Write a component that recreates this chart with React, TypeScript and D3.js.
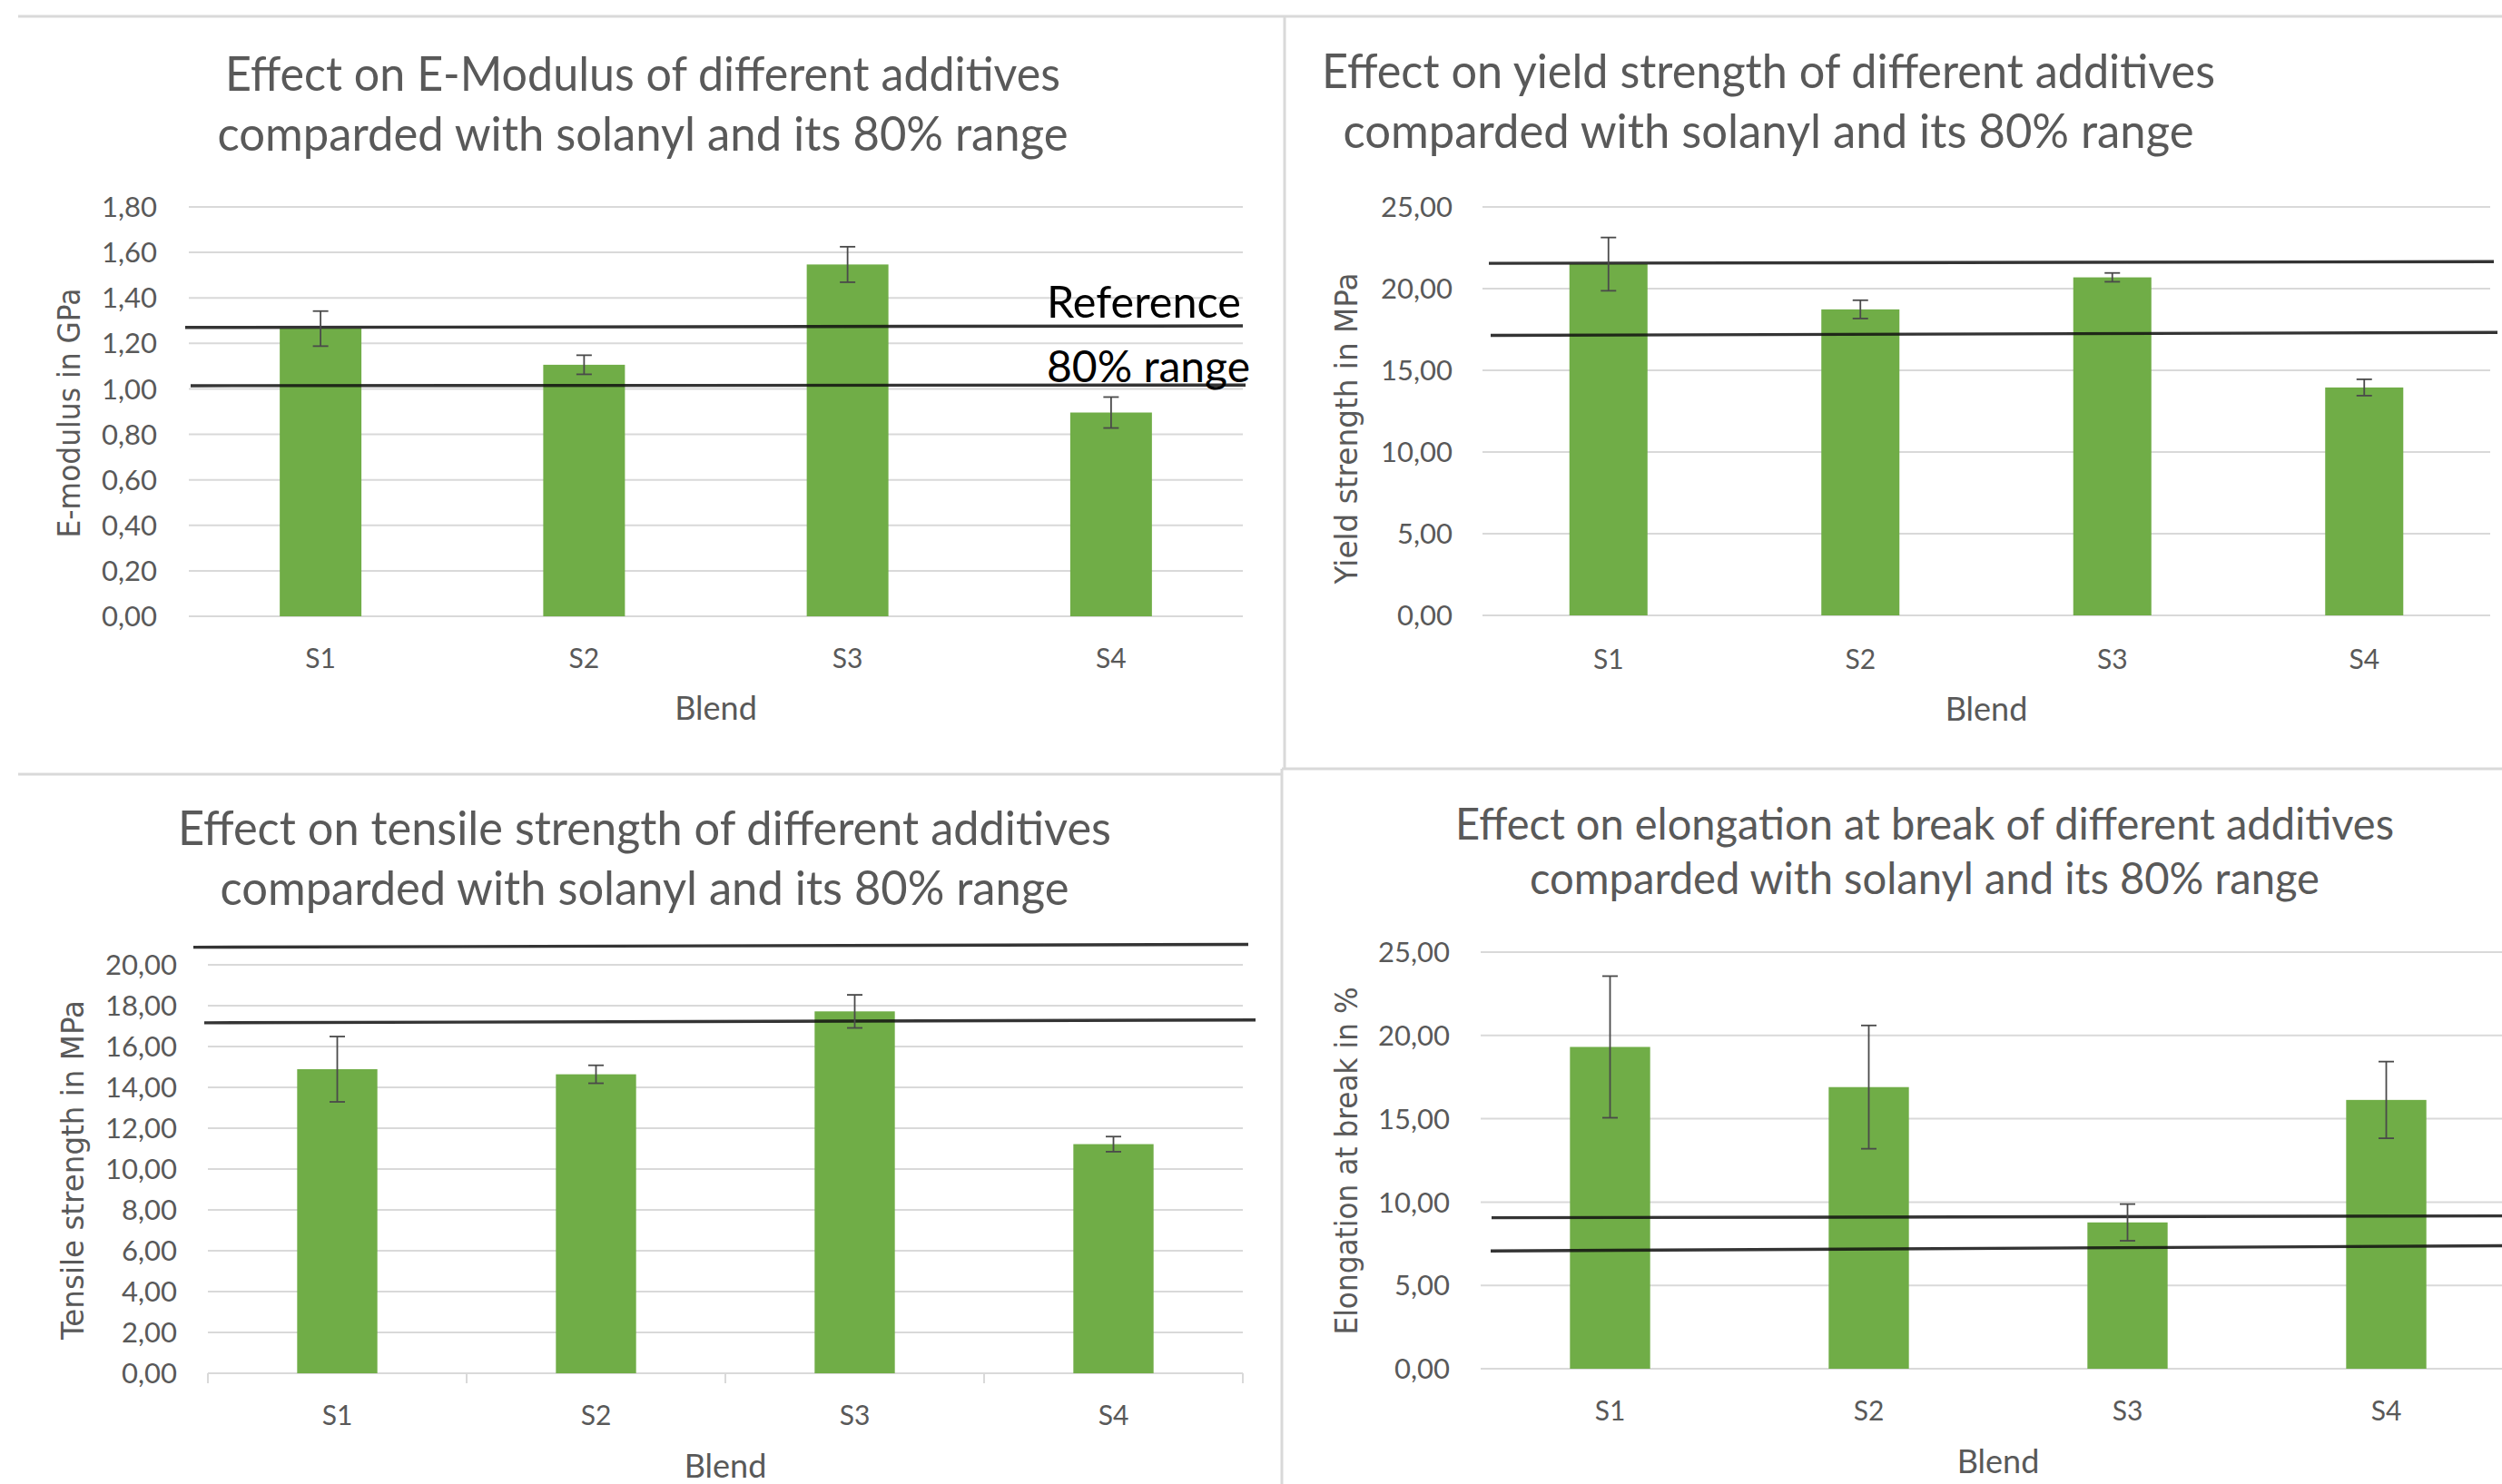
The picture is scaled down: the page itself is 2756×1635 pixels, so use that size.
import React from "react";
import * as d3 from "d3";

// ---------- DATA ----------
const categories = ["S1", "S2", "S3", "S4"];

const eModulusTitle = ["Effect on E-Modulus of different additives", "comparded with solanyl and its 80% range"];
const eModulusAxis = "E-modulus in GPa";
const eModulus = [1.265, 1.106, 1.547, 0.896];
const eModulusErr = [0.077, 0.042, 0.078, 0.068];
const eModulusRefUpper = [1.27, 1.277];
const eModulusRefLower = [1.014, 1.017];
const eModulusTicks = [0, 0.2, 0.4, 0.6, 0.8, 1.0, 1.2, 1.4, 1.6, 1.8];

const yieldTitle = ["Effect on yield strength of different additives", "comparded with solanyl and its 80% range"];
const yieldAxis = "Yield strength in MPa";
const yieldStrength = [21.5, 18.73, 20.69, 13.95];
const yieldErr = [1.63, 0.56, 0.27, 0.5];
const yieldRefUpper = [21.55, 21.65];
const yieldRefLower = [17.14, 17.32];
const yieldTicks = [0, 5, 10, 15, 20, 25];

const tensileTitle = ["Effect on tensile strength of different additives", "comparded with solanyl and its 80% range"];
const tensileAxis = "Tensile strength in MPa";
const tensileStrength = [14.89, 14.64, 17.72, 11.22];
const tensileErr = [1.6, 0.44, 0.81, 0.37];
const tensileRefUpper = [20.86, 21.0];
const tensileRefLower = [17.16, 17.3];
const tensileTicks = [0, 2, 4, 6, 8, 10, 12, 14, 16, 18, 20];

const elongTitle = ["Effect on elongation at break of different additives", "comparded with solanyl and its 80% range"];
const elongAxis = "Elongation at break in %";
const elongation = [19.31, 16.9, 8.78, 16.13];
const elongErr = [4.25, 3.7, 1.1, 2.3];
const elongRefUpper = [9.06, 9.17];
const elongRefLower = [7.07, 7.38];
const elongTicks = [0, 5, 10, 15, 20, 25];

const xAxisLabel = "Blend";
const refLabels = ["Reference", "80% range"];

// ---------- STYLE / LAYOUT ----------
const W = 2756;
const H = 1635;
const GREEN = "#70AD47";
const GRID = "#D9D9D9";
const TEXT = "#595959";
const FONT = "Lato, 'Open Sans', sans-serif";

const locale = d3.formatLocale({ decimal: ",", thousands: ".", grouping: [3], currency: ["", "€"] });
const fmt = locale.format(".2f");

type Panel = {
  title: string[];
  axis: string;
  values: number[];
  errs: number[];
  refUpper: number[];
  refLower: number[];
  ticks: number[];
  x0: number; x1: number; yTop: number; yZero: number;
  titleX: number; titleY: number[]; titleLen: number[]; titleSize: number;
  tickRight: number;
  axisX: number; axisY: number; axisLen: number;
  catBase: number; blendBase: number;
  upperExt: number[]; lowerExt: number[];
  xTicks?: boolean;
  refText?: boolean;
};

const panels: Panel[] = [
  {
    title: eModulusTitle, axis: eModulusAxis, values: eModulus, errs: eModulusErr,
    refUpper: eModulusRefUpper, refLower: eModulusRefLower, ticks: eModulusTicks,
    x0: 208, x1: 1369, yTop: 228, yZero: 679,
    titleX: 708, titleY: [100, 166], titleLen: [920, 937], titleSize: 52,
    tickRight: 173, axisX: 76, axisY: 455, axisLen: 275,
    catBase: 736, blendBase: 793,
    upperExt: [204, 1369], lowerExt: [210, 1372], refText: true,
  },
  {
    title: yieldTitle, axis: yieldAxis, values: yieldStrength, errs: yieldErr,
    refUpper: yieldRefUpper, refLower: yieldRefLower, ticks: yieldTicks,
    x0: 1633, x1: 2743, yTop: 228, yZero: 678,
    titleX: 1948, titleY: [97, 163], titleLen: [984, 937], titleSize: 52,
    tickRight: 1600, axisX: 1483, axisY: 472, axisLen: 343,
    catBase: 737, blendBase: 794,
    upperExt: [1640, 2747], lowerExt: [1642, 2751],
  },
  {
    title: tensileTitle, axis: tensileAxis, values: tensileStrength, errs: tensileErr,
    refUpper: tensileRefUpper, refLower: tensileRefLower, ticks: tensileTicks,
    x0: 229, x1: 1369, yTop: 1063, yZero: 1513,
    titleX: 710, titleY: [931, 997], titleLen: [1028, 935], titleSize: 52,
    tickRight: 195, axisX: 80, axisY: 1289, axisLen: 374,
    catBase: 1570, blendBase: 1628,
    upperExt: [213, 1375], lowerExt: [225, 1383], xTicks: true,
  },
  {
    title: elongTitle, axis: elongAxis, values: elongation, errs: elongErr,
    refUpper: elongRefUpper, refLower: elongRefLower, ticks: elongTicks,
    x0: 1631, x1: 2771, yTop: 1049, yZero: 1508,
    titleX: 2120, titleY: [925, 985], titleLen: [1034, 870], titleSize: 48,
    tickRight: 1597, axisX: 1483, axisY: 1279, axisLen: 383,
    catBase: 1565, blendBase: 1623,
    upperExt: [1643, 2756], lowerExt: [1642, 2756],
  },
];

function ChartPanel({ p }: { p: Panel }) {
  const x = d3.scaleBand<string>().domain(categories).range([p.x0, p.x1]).paddingInner(0.69).paddingOuter(0.345);
  const yMax = p.ticks[p.ticks.length - 1];
  const y = d3.scaleLinear().domain([0, yMax]).range([p.yZero, p.yTop]);
  const step = x.step();
  const bw = x.bandwidth();
  const cap = 8.5;
  const refLine = (vals: number[], ext: number[]) => {
    const ls = d3.scaleLinear().domain([0, 1]).range(ext);
    return d3.line<number>().x((_, i) => ls(i)).y((d) => y(d))(vals) || "";
  };
  return (
    <g>
      {p.title.map((t, i) => (
        <text key={i} x={p.titleX} y={p.titleY[i]} textAnchor="middle" fontFamily={FONT} fontWeight={400}
          fontSize={p.titleSize} fill={TEXT} textLength={p.titleLen[i]} lengthAdjust="spacingAndGlyphs">{t}</text>
      ))}
      {p.ticks.map((t) => (
        <line key={t} x1={p.x0} x2={Math.min(p.x1, W)} y1={y(t)} y2={y(t)} stroke={GRID} strokeWidth={2} />
      ))}
      {p.ticks.map((t) => (
        <text key={"l" + t} x={p.tickRight} y={y(t)} dy="0.36em" textAnchor="end" fontFamily={FONT}
          fontSize={31} fill={TEXT}>{fmt(t)}</text>
      ))}
      {p.xTicks && d3.range(categories.length + 1).map((i) => (
        <line key={"xt" + i} x1={p.x0 + i * step} x2={p.x0 + i * step} y1={p.yZero} y2={p.yZero + 11} stroke={GRID} strokeWidth={2} />
      ))}
      {categories.map((c, i) => (
        <rect key={c} x={x(c)} y={y(p.values[i])} width={bw} height={y(0) - y(p.values[i])} fill={GREEN} />
      ))}
      <path d={refLine(p.refUpper, p.upperExt)} stroke="#111" strokeOpacity={0.85} strokeWidth={3.4} fill="none" />
      <path d={refLine(p.refLower, p.lowerExt)} stroke="#111" strokeOpacity={0.85} strokeWidth={3.4} fill="none" />
      {categories.map((c, i) => {
        const cx = (x(c) as number) + bw / 2;
        const hi = y(p.values[i] + p.errs[i]);
        const lo = y(p.values[i] - p.errs[i]);
        return (
          <g key={"e" + c} stroke="#4a4a4a" strokeWidth={1.8}>
            <line x1={cx} x2={cx} y1={hi} y2={lo} />
            <line x1={cx - cap} x2={cx + cap} y1={hi} y2={hi} />
            <line x1={cx - cap} x2={cx + cap} y1={lo} y2={lo} />
          </g>
        );
      })}
      {categories.map((c) => (
        <text key={"c" + c} x={(x(c) as number) + bw / 2} y={p.catBase} textAnchor="middle" fontFamily={FONT}
          fontSize={30} fill={TEXT}>{c}</text>
      ))}
      <text x={(p.x0 + p.x1) / 2} y={p.blendBase} textAnchor="middle" fontFamily={FONT} fontSize={36} fill={TEXT}>{xAxisLabel}</text>
      <text transform={`translate(${p.axisX},${p.axisY}) rotate(-90)`} textAnchor="middle" dy="0.36em"
        fontFamily="'DejaVu Sans', sans-serif" fontSize={34} fill={TEXT} textLength={p.axisLen}
        lengthAdjust="spacingAndGlyphs">{p.axis}</text>
      {p.refText && (
        <g fontFamily={FONT} fontSize={48} fill="#000">
          <text x={1153} y={350} textLength={214} lengthAdjust="spacingAndGlyphs">{refLabels[0]}</text>
          <text x={1153} y={421} textLength={224} lengthAdjust="spacingAndGlyphs">{refLabels[1]}</text>
        </g>
      )}
    </g>
  );
}

export default function App() {
  return (
    <svg width={W} height={H} style={{ position: "absolute", left: 0, top: 0, background: "#fff" }}>
      <rect x={0} y={0} width={W} height={H} fill="#fff" />
      <g stroke={GRID} strokeWidth={3} fill="none">
        <line x1={20} x2={W} y1={18} y2={18} />
        <line x1={1415} x2={1415} y1={18} y2={847} />
        <line x1={20} x2={1412} y1={853} y2={853} />
        <line x1={1412} x2={W} y1={847} y2={847} />
        <line x1={1412} x2={1412} y1={847} y2={H} />
      </g>
      {panels.map((p, i) => (
        <ChartPanel key={i} p={p} />
      ))}
    </svg>
  );
}
